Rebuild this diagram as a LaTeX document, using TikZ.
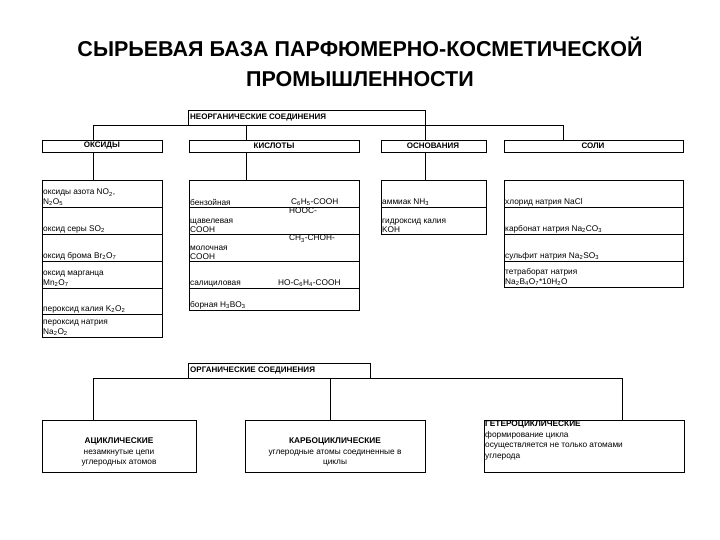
\documentclass[tikz,border=0pt]{standalone}
\usepackage{fontspec}
\setmainfont{Liberation Sans}
\newcommand{\sbx}[1]{\textsubscript{#1}}
\begin{document}
\begin{tikzpicture}[x=1pt,y=-1pt,
  box/.style={draw,line width=0.6pt},
  ln/.style={line width=0.6pt},
  cell/.style={anchor=south west,inner sep=1pt,font=\fontsize{8.3}{9.5}\selectfont,align=left},
  hdr/.style={font=\bfseries\fontsize{8}{9}\selectfont,inner sep=0pt}]
\useasboundingbox (0,0) rectangle (720,540);
\node[font=\bfseries\fontsize{21.5}{30}\selectfont,align=center] (title) at (360,62) {СЫРЬЕВАЯ БАЗА ПАРФЮМЕРНО-КОСМЕТИЧЕСКОЙ\\ПРОМЫШЛЕННОСТИ};
% inorganic
\draw[box] (188,110) rectangle (425,125);
\node[hdr,anchor=west] (inorg) at (190,117.5) {НЕОРГАНИЧЕСКИЕ СОЕДИНЕНИЯ};
\draw[ln] (93,125) -- (563,125);
\draw[ln] (93,125) -- (93,140) (246,125) -- (246,140) (425,125) -- (425,140) (563,125) -- (563,140);
\draw[box] (42,140) rectangle (162,152); \node[hdr] (ox) at (102,145.5) {ОКСИДЫ};
\draw[box] (189,140) rectangle (359,152); \node[hdr] (ac) at (274,145.5) {КИСЛОТЫ};
\draw[box] (381,140) rectangle (486,152); \node[hdr] (ba) at (433,145.5) {ОСНОВАНИЯ};
\draw[box] (504,140) rectangle (683,152); \node[hdr] (sa) at (593,145.5) {СОЛИ};
\draw[ln] (93,152) -- (93,180) (246,152) -- (246,180) (425,152) -- (425,180);
% oxides list
\draw[box] (42,180) rectangle (162,337);
\foreach \y in {207,234,261,288,314} \draw[ln] (42,\y) -- (162,\y);
\node[cell] (o1) at (42,207) {оксиды азота NO\sbx{2},\\N\sbx{2}O\sbx{5}};
\node[cell] (o2) at (42,234) {оксид серы SO\sbx{2}};
\node[cell] (o3) at (42,261) {оксид брома Br\sbx{2}O\sbx{7}};
\node[cell] (o4) at (42,288) {оксид марганца\\Mn\sbx{2}O\sbx{7}};
\node[cell] (o5) at (42,314) {пероксид калия K\sbx{2}O\sbx{2}};
\node[cell] (o6) at (42,337) {пероксид натрия\\Na\sbx{2}O\sbx{2}};
% acids
\draw[box] (189,180) rectangle (359,310);
\foreach \y in {207,234,261,288} \draw[ln] (189,\y) -- (359,\y);
\node[cell] (a1) at (189,207) {бензойная};
\node[cell] (a1f) at (290,207) {C\sbx{6}H\sbx{5}-COOH};
\node[cell] (a2) at (189,234) {щавелевая\\COOH};
\node[cell,anchor=north west] (a2f) at (288,207) {HOOC-};
\node[cell] (a3) at (189,261) {молочная\\COOH};
\node[cell,anchor=north west] (a3f) at (288,234) {CH\sbx{3}-CHOH-};
\node[cell] (a4) at (189,288) {салициловая};
\node[cell] (a4f) at (277,288) {HO-C\sbx{6}H\sbx{4}-COOH};
\node[cell] (a5) at (189,310) {борная H\sbx{3}BO\sbx{3}};
% bases
\draw[box] (381,180) rectangle (486,234);
\draw[ln] (381,207) -- (486,207);
\node[cell] (b1) at (381,207) {аммиак NH\sbx{3}};
\node[cell] (b2) at (381,234) {гидроксид калия\\KOH};
% salts
\draw[box] (504,180) rectangle (683,287);
\foreach \y in {207,234,261} \draw[ln] (504,\y) -- (683,\y);
\node[cell] (s1) at (504,207) {хлорид натрия NaCl};
\node[cell] (s2) at (504,234) {карбонат натрия Na\sbx{2}CO\sbx{3}};
\node[cell] (s3) at (504,261) {сульфит натрия Na\sbx{2}SO\sbx{3}};
\node[cell] (s4) at (504,287) {тетраборат натрия\\Na\sbx{2}B\sbx{4}O\sbx{7}*10H\sbx{2}O};
% organic
\draw[box] (188,363) rectangle (370,378);
\node[hdr,anchor=west] (org) at (190,370.5) {ОРГАНИЧЕСКИЕ СОЕДИНЕНИЯ};
\draw[ln] (93,378) -- (622,378);
\draw[ln] (93,378) -- (93,420) (330,378) -- (330,420) (622,378) -- (622,420);
\draw[box] (42,420) rectangle (196,472);
\node[align=center,font=\fontsize{8.3}{10.5}\selectfont] (acy) at (119,452) {\textbf{АЦИКЛИЧЕСКИЕ}\\незамкнутые цепи\\углеродных атомов};
\draw[box] (245,420) rectangle (425,472);
\node[align=center,font=\fontsize{8.3}{10.5}\selectfont] (carb) at (335,452) {\textbf{КАРБОЦИКЛИЧЕСКИЕ}\\углеродные атомы соединенные в\\циклы};
\draw[box] (484,420) rectangle (684,472);
\node[anchor=north west,align=left,inner sep=1pt,font=\fontsize{8.3}{10.5}\selectfont] (het) at (484,420) {\textbf{ГЕТЕРОЦИКЛИЧЕСКИЕ}\\формирование цикла\\осуществляется не только атомами\\углерода};
\end{tikzpicture}
\end{document}
